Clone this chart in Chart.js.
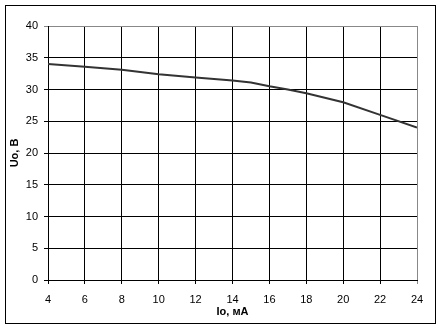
<!DOCTYPE html>
<html>
<head>
<meta charset="utf-8">
<script src="https://cdn.jsdelivr.net/npm/chart.js@4/dist/chart.umd.min.js"></script>
<style>
    body { margin: 0; background: #fff; }
    #wrap { position: relative; width: 442px; height: 330px; }
</style>
</head>
<body>
<div id="wrap"><canvas id="myChart"></canvas></div>
<script>
// Io, мА
const currents = [4, 6, 8, 10, 12, 14, 15, 16, 17, 18, 20, 22, 24];
// Uo, В
const voltages = [34.0, 33.6, 33.1, 32.4, 31.9, 31.4, 31.1, 30.5, 30.0, 29.4, 28.0, 26.0, 24.0];
const xTitle = "Io, мА";
const yTitle = "Uo, В";

let points = currents.map((c, i) => ({ x: c, y: voltages[i] }));

// outer frame round the whole chart
const frame = {
    id: 'frame',
    beforeDraw: (chart) => {
        const c = chart.ctx;
        c.save();
        c.fillStyle = '#fff';
        c.fillRect(0, 0, chart.width, chart.height);
        c.strokeStyle = '#000';
        c.lineWidth = 1;
        c.strokeRect(5.5, 5.5, 430, 318);
        c.restore();
    }
};

let tickFont = { family: "'Liberation Sans', Arial, sans-serif", size: 11 };
let titleFont = { family: "'Liberation Sans', Arial, sans-serif", size: 11, weight: 'bold' };

var myChart = new Chart(document.getElementById('myChart'), {
    type: 'line',
    data: {
        datasets: [{
            data: points,
            borderColor: '#333',
            borderWidth: 2,
            pointRadius: 0,
            fill: false,
            tension: 0
        }]
    },
    options: {
        responsive: true,
        maintainAspectRatio: false,
        animation: false,
        devicePixelRatio: 1,
        layout: { padding: { left: 0, top: 26, right: 25, bottom: 0 } },
        plugins: { legend: { display: false }, tooltip: { enabled: false } },
        scales: {
            x: {
                type: 'linear',
                min: 4,
                max: 24,
                ticks: { stepSize: 2, color: '#000', font: tickFont, padding: 9, maxRotation: 0 },
                grid: {
                    color: (ctx) => ctx.index === 10 ? '#888' : '#000',
                    lineWidth: 1,
                    tickLength: 4,
                    drawTicks: true
                },
                border: { color: '#000' },
                title: { display: true, text: xTitle, color: '#000', font: titleFont, padding: { top: 0, bottom: 11 } },
                afterFit: (s) => { s.height = 50; }
            },
            y: {
                min: 0,
                max: 40,
                ticks: { stepSize: 5, color: '#000', font: tickFont, padding: 6 },
                grid: {
                    color: (ctx) => ctx.index === 8 ? '#888' : '#000',
                    lineWidth: 1,
                    tickLength: 4,
                    drawTicks: true
                },
                border: { color: '#000' },
                title: { display: true, text: yTitle, color: '#000', font: titleFont, padding: { top: 8, bottom: 0 } },
                afterFit: (s) => { s.width = 48; }
            }
        }
    },
    plugins: [frame]
});
</script>
</body>
</html>
